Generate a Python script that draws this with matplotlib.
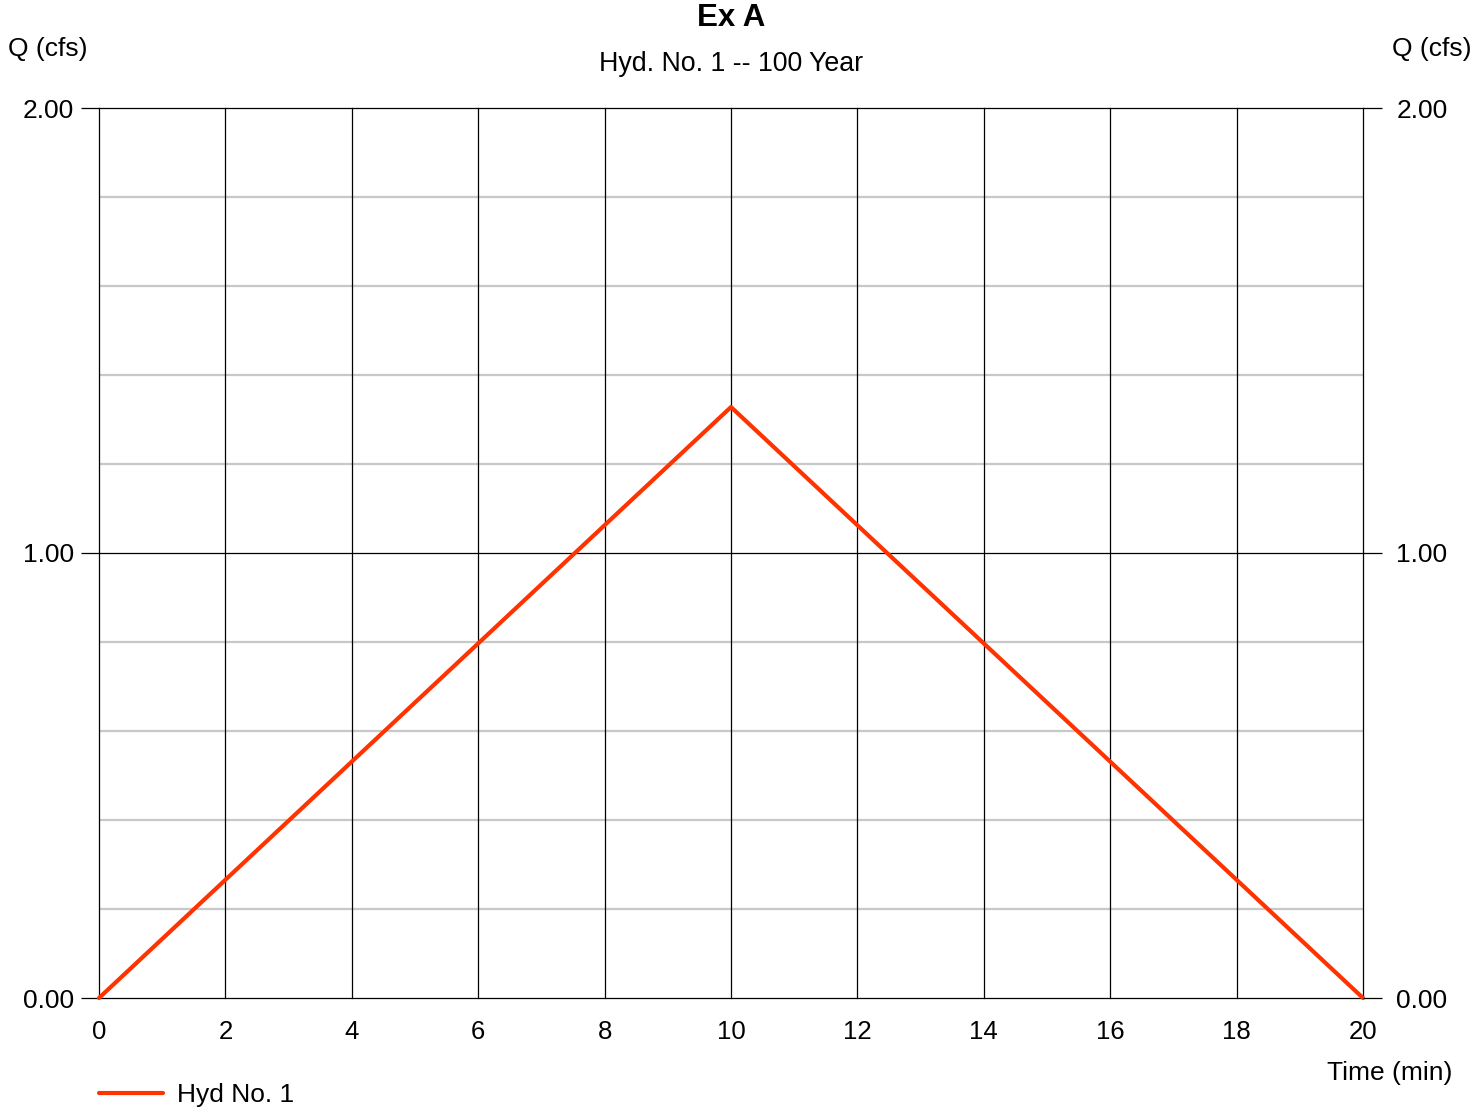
import numpy as np
import matplotlib.pyplot as plt

plt.rcParams['font.family'] = ['Liberation Sans', 'DejaVu Sans']

# hydrograph data
time_min = [0, 10, 20]
q_cfs = [0.0, 1.328, 0.0]
x_ticks = list(range(0, 21, 2))
y_ticks = [0.0, 1.0, 2.0]
y_minor = [0.2, 0.4, 0.6, 0.8, 1.2, 1.4, 1.6, 1.8]

fig = plt.figure(figsize=(14.73, 11.10), dpi=100)
ax = fig.add_axes([99 / 1473, 1 - 998 / 1110, 1264 / 1473, 890 / 1110])

ax.set_xlim(0, 20)
ax.set_ylim(0, 2)

# grid
for y in y_minor:
    ax.axhline(y, color='#c8c8c8', lw=1.6, zorder=1)
for x in x_ticks:
    ax.axvline(x, color='black', lw=0.9, zorder=1, clip_on=False)
for y in y_ticks:
    ax.axhline(y, color='black', lw=0.9, zorder=1, clip_on=False)

ax.plot(time_min, q_cfs, color='#ff3300', lw=3, solid_capstyle='round',
        label='Hyd No. 1', zorder=3, clip_on=False)

ax2 = ax.twinx()
ax2.set_ylim(0, 2)
for a in (ax, ax2):
    for s in a.spines.values():
        s.set_visible(False)

ax.set_xticks(x_ticks)
ax.set_xticklabels([str(x) for x in x_ticks])
ax.tick_params(axis='x', length=0, pad=16, labelsize=18.5)
ax.set_yticks(y_ticks)
ax.set_yticklabels(['%.2f' % y for y in y_ticks])
ax.tick_params(axis='y', length=13, width=0.9, pad=5, labelsize=19)
ax2.set_yticks(y_ticks)
ax2.set_yticklabels(['%.2f' % y for y in y_ticks])
ax2.tick_params(axis='y', length=14, width=0.9, pad=10, labelsize=19)

fig.text(731 / 1473, 1 - 18 / 1110, 'Ex A', ha='center', va='center',
         fontsize=22.5, fontweight='bold')
fig.text(731 / 1473, 1 - 64 / 1110, 'Hyd. No. 1 -- 100 Year', ha='center',
         va='center', fontsize=19.3)
fig.text(8 / 1473, 1 - 49 / 1110, 'Q (cfs)', ha='left', va='center', fontsize=19)
fig.text(1472 / 1473, 1 - 49 / 1110, 'Q (cfs)', ha='right', va='center', fontsize=19)
fig.text(1452 / 1473, 1 - 1073 / 1110, 'Time (min)', ha='right', va='center',
         fontsize=19)

ax.legend(loc='center left', bbox_to_anchor=(-0.0185, -0.109), frameon=False,
          fontsize=19, handlelength=2.4, handletextpad=0.55)

fig.savefig('out.png', dpi=100)
